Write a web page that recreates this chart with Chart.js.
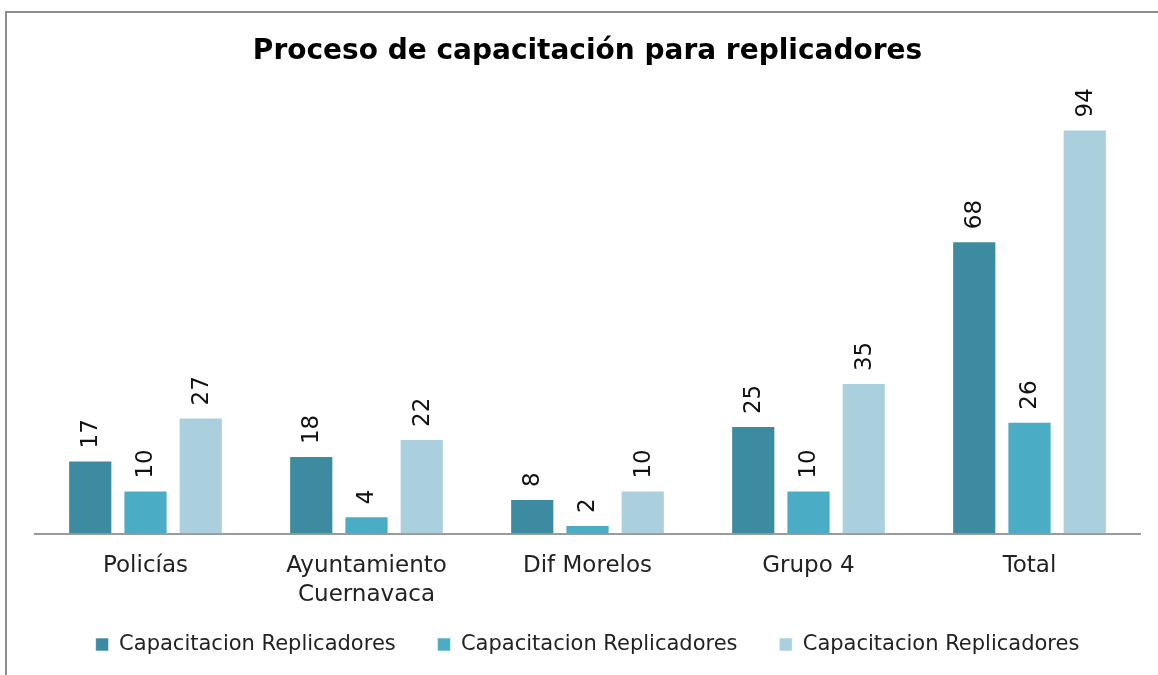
<!DOCTYPE html>
<html>
<head>
<meta charset="utf-8">
<script src="https://cdn.jsdelivr.net/npm/chart.js@4/dist/chart.umd.min.js"></script>
<style>
    html, body { margin: 0; padding: 0; background: #fff; overflow: hidden; }
    #frame {
        position: absolute; left: 5px; top: 11px; width: 1200px; height: 700px;
        border: 2px solid #8e8e8e; box-sizing: border-box;
    }
    #wrap { position: absolute; left: 0; top: 0; width: 1158px; height: 675px; }
</style>
</head>
<body>
<div id="frame"></div>
<div id="wrap"><canvas id="chart"></canvas></div>
<script>
const categories = ['Policías', ['Ayuntamiento', 'Cuernavaca'], 'Dif Morelos', 'Grupo 4', 'Total'];
const seriesNames = ['Capacitacion Replicadores', 'Capacitacion Replicadores', 'Capacitacion Replicadores'];
const serie1 = [17, 18, 8, 25, 68];
const serie2 = [10, 4, 2, 10, 26];
const serie3 = [27, 22, 10, 35, 94];
const colors = ['#3d8ba1', '#4bacc6', '#aacfdd'];

const FONT = '"DejaVu Sans", sans-serif';

// rotated value labels above each bar
const barLabels = {
    id: 'barLabels',
    afterDatasetsDraw(chart) {
        const ctx = chart.ctx;
        ctx.save();
        ctx.font = '23px ' + FONT;
        ctx.fillStyle = '#111';
        ctx.textAlign = 'left';
        ctx.textBaseline = 'middle';
        chart.data.datasets.forEach((ds, i) => {
            chart.getDatasetMeta(i).data.forEach((bar, j) => {
                ctx.save();
                ctx.translate(bar.x, bar.y - 12);
                ctx.rotate(-Math.PI / 2);
                ctx.fillText(String(ds.data[j]), 0, 1);
                ctx.restore();
            });
        });
        ctx.restore();
    }
};

new Chart(document.getElementById('chart'), {
    type: 'bar',
    data: {
        labels: categories,
        datasets: [serie1, serie2, serie3].map((d, i) => ({
            label: seriesNames[i],
            data: d,
            backgroundColor: colors[i],
            borderColor: 'rgba(255,255,255,0.6)',
            borderWidth: 1,
            barPercentage: 0.8,
            categoryPercentage: 0.75
        }))
    },
    options: {
        responsive: true,
        maintainAspectRatio: false,
        animation: false,
        layout: { padding: { left: 35, right: 18, top: 0, bottom: 10 } },
        plugins: {
            title: {
                display: true,
                text: 'Proceso de capacitación para replicadores',
                color: '#000',
                font: { family: FONT, size: 28, weight: 'bold' },
                padding: { top: 35, bottom: 35 }
            },
            legend: {
                position: 'bottom',
                labels: {
                    color: '#222',
                    font: { family: FONT, size: 21 },
                    boxWidth: 13,
                    boxHeight: 13,
                    padding: 15,
                    // padding is also vertical, so widen the gap between items with spaces
                    generateLabels(chart) {
                        const items = Chart.defaults.plugins.legend.labels.generateLabels(chart);
                        items.forEach((it, i) => {
                            if (i < items.length - 1) it.text += '    ';
                        });
                        return items;
                    }
                }
            },
            tooltip: { enabled: false }
        },
        scales: {
            x: {
                grid: { display: false },
                border: { display: true, color: '#9a9a9a', width: 2 },
                ticks: {
                    color: '#222',
                    font: { family: FONT, size: 23, lineHeight: 1.25 },
                    padding: 10,
                    maxRotation: 0
                }
            },
            y: {
                display: false,
                min: 0,
                max: 100
            }
        }
    },
    plugins: [barLabels]
});
</script>
</body>
</html>
